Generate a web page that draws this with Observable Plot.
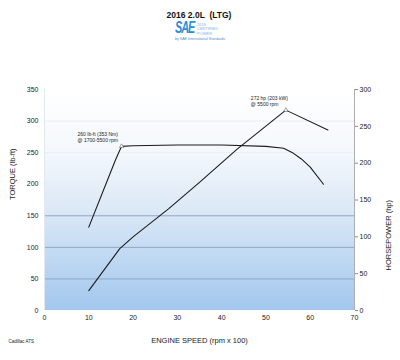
<!DOCTYPE html>
<html><head><meta charset="utf-8">
<script src="https://cdn.jsdelivr.net/npm/d3@7"></script>
<script src="https://cdn.jsdelivr.net/npm/@observablehq/plot@0.6"></script>
<style>
body{margin:0;background:#fff;font-family:"Liberation Sans",Arial,sans-serif;}
#wrap{width:400px;height:360px;position:relative;overflow:hidden}
#head{height:48px;position:relative}
#title{position:absolute;top:10px;left:0;width:398px;text-align:center;font-weight:bold;font-size:8.5px;white-space:pre;color:#111;line-height:10px}
#sae{position:absolute;top:20px;left:175px;font-weight:bold;font-style:italic;font-size:16px;color:#2b8fd3;letter-spacing:-1.5px;line-height:15px;transform:scaleX(0.68);transform-origin:left top;white-space:nowrap}
#cert{position:absolute;top:23px;left:197px;font-size:4px;line-height:4.4px;color:#7fb2de;white-space:nowrap}
#by{position:absolute;top:37px;left:175px;font-size:3.6px;line-height:4px;color:#4a90c8;white-space:nowrap}
#chart svg{display:block}
</style></head>
<body>
<div id="wrap">
  <div id="head">
    <div id="title">2016 2.0L  (LTG)</div>
    <div id="sae">SAE</div>
    <div id="cert">2016<br>CERTIFIED<br>POWER</div>
    <div id="by">by SAE International Standards</div>
  </div>
  <div id="chart"></div>
</div>
<script>
// Data
const xTicks = [0, 10, 20, 30, 40, 50, 60, 70];
const torqueTicks = [0, 50, 100, 150, 200, 250, 300, 350];
const hpTicks = [0, 50, 100, 150, 200, 250, 300];
const torqueRpm = [10, 16, 17.4, 20, 30, 40, 50, 54, 56, 58, 60, 63];
const torqueVal = [132, 238, 260, 261, 262, 262, 260, 257, 250, 240, 227, 200];
const hpRpm = [10, 17, 20, 28, 35, 43.5, 54.5, 64];
const hpVal = [27, 84, 100, 138, 174, 219, 272, 245];
const torquePeak = {rpm: 17.4, val: 260, label: "260 lb-ft (353 Nm)\n@ 1700-5500 rpm"};
const hpPeak = {rpm: 54.5, val: 272, label: "272 hp (203 kW)\n@ 5500 rpm"};

const K = 350 / 300; // hp -> torque-axis units
const torque = torqueRpm.map((r, i) => ({rpm: r, v: torqueVal[i]}));
const hp = hpRpm.map((r, i) => ({rpm: r, v: hpVal[i] * K}));
const font = '"Liberation Sans", Arial, sans-serif';

const background = (index, scales, values, dim) => {
  const ns = "http://www.w3.org/2000/svg";
  const g = document.createElementNS(ns, "g");
  g.innerHTML = `<defs><linearGradient id="bg" x1="0" y1="0" x2="0" y2="1">
    <stop offset="0" stop-color="#ffffff"/>
    <stop offset="0.28" stop-color="#f4f8fc"/>
    <stop offset="0.55" stop-color="#dbe8f6"/>
    <stop offset="1" stop-color="#a2c7ee"/></linearGradient></defs>
    <rect x="${dim.marginLeft}" y="${dim.marginTop}" width="${dim.width - dim.marginLeft - dim.marginRight}" height="${dim.height - dim.marginTop - dim.marginBottom}" fill="url(#bg)"/>`;
  return g;
};

const chart = Plot.plot({
  width: 400, height: 312,
  marginTop: 41, marginBottom: 50, marginLeft: 44, marginRight: 46,
  style: {fontFamily: font, fontSize: "7px", color: "#222", background: "transparent"},
  x: {domain: [0, 70]},
  y: {domain: [0, 350]},
  marks: [
    background,
    Plot.ruleY(torqueTicks.filter(d => d > 0 && d <= 150), {stroke: "#8ea8c4", strokeWidth: 1}),
    Plot.ruleY(torqueTicks.filter(d => d > 150 && d < 350), {stroke: "#e9eff6", strokeWidth: 1}),
    Plot.ruleX([0], {stroke: "#e2e8ef"}),
    Plot.ruleX([70], {stroke: "#9a9a9a", strokeWidth: 0.8}),
    Plot.axisX(xTicks, {tickSize: 0, tickPadding: 5, label: null, fontSize: 7}),
    Plot.axisY(torqueTicks, {anchor: "left", tickSize: 0, tickPadding: 6, label: null, fontSize: 7}),
    Plot.axisY(hpTicks.map(d => d * K), {anchor: "right", tickSize: 3, tickPadding: 2, tickFormat: d => Math.round(d / K), label: null, fontSize: 7, stroke: "#888"}),
    Plot.text(["TORQUE (lb-ft)"], {frameAnchor: "left", rotate: -90, dx: -32, fontSize: 7.5}),
    Plot.text(["HORSEPOWER (hp)"], {frameAnchor: "right", rotate: -90, dx: 34, fontSize: 7.5}),
    Plot.text(["ENGINE SPEED (rpm x 100)"], {frameAnchor: "bottom", dy: 32, fontSize: 7.5}),
    Plot.text(["Cadillac ATS"], {frameAnchor: "bottom-left", dx: -36, dy: 32, textAnchor: "start", fontSize: 4.5}),
    Plot.line(torque, {x: "rpm", y: "v", stroke: "#1c1c1c", strokeWidth: 1.1}),
    Plot.line(hp, {x: "rpm", y: "v", stroke: "#1c1c1c", strokeWidth: 1.1}),
    Plot.dot([torquePeak], {x: "rpm", y: "val", symbol: "triangle", r: 1.6, fill: "white", stroke: "#444", strokeWidth: 0.5}),
    Plot.dot([hpPeak], {x: "rpm", y: d => d.val * K, symbol: "triangle", r: 1.6, fill: "white", stroke: "#444", strokeWidth: 0.5}),
    Plot.text([torquePeak], {x: "rpm", y: "val", text: "label", textAnchor: "start", lineAnchor: "bottom", dx: -44, dy: -4, fontSize: 5, lineHeight: 1.25, fill: "#222"}),
    Plot.text([hpPeak], {x: "rpm", y: d => d.val * K, text: "label", textAnchor: "start", lineAnchor: "bottom", dx: -35, dy: -4, fontSize: 5, lineHeight: 1.25, fill: "#222"})
  ]
});
document.getElementById("chart").append(chart);
</script>
</body></html>
